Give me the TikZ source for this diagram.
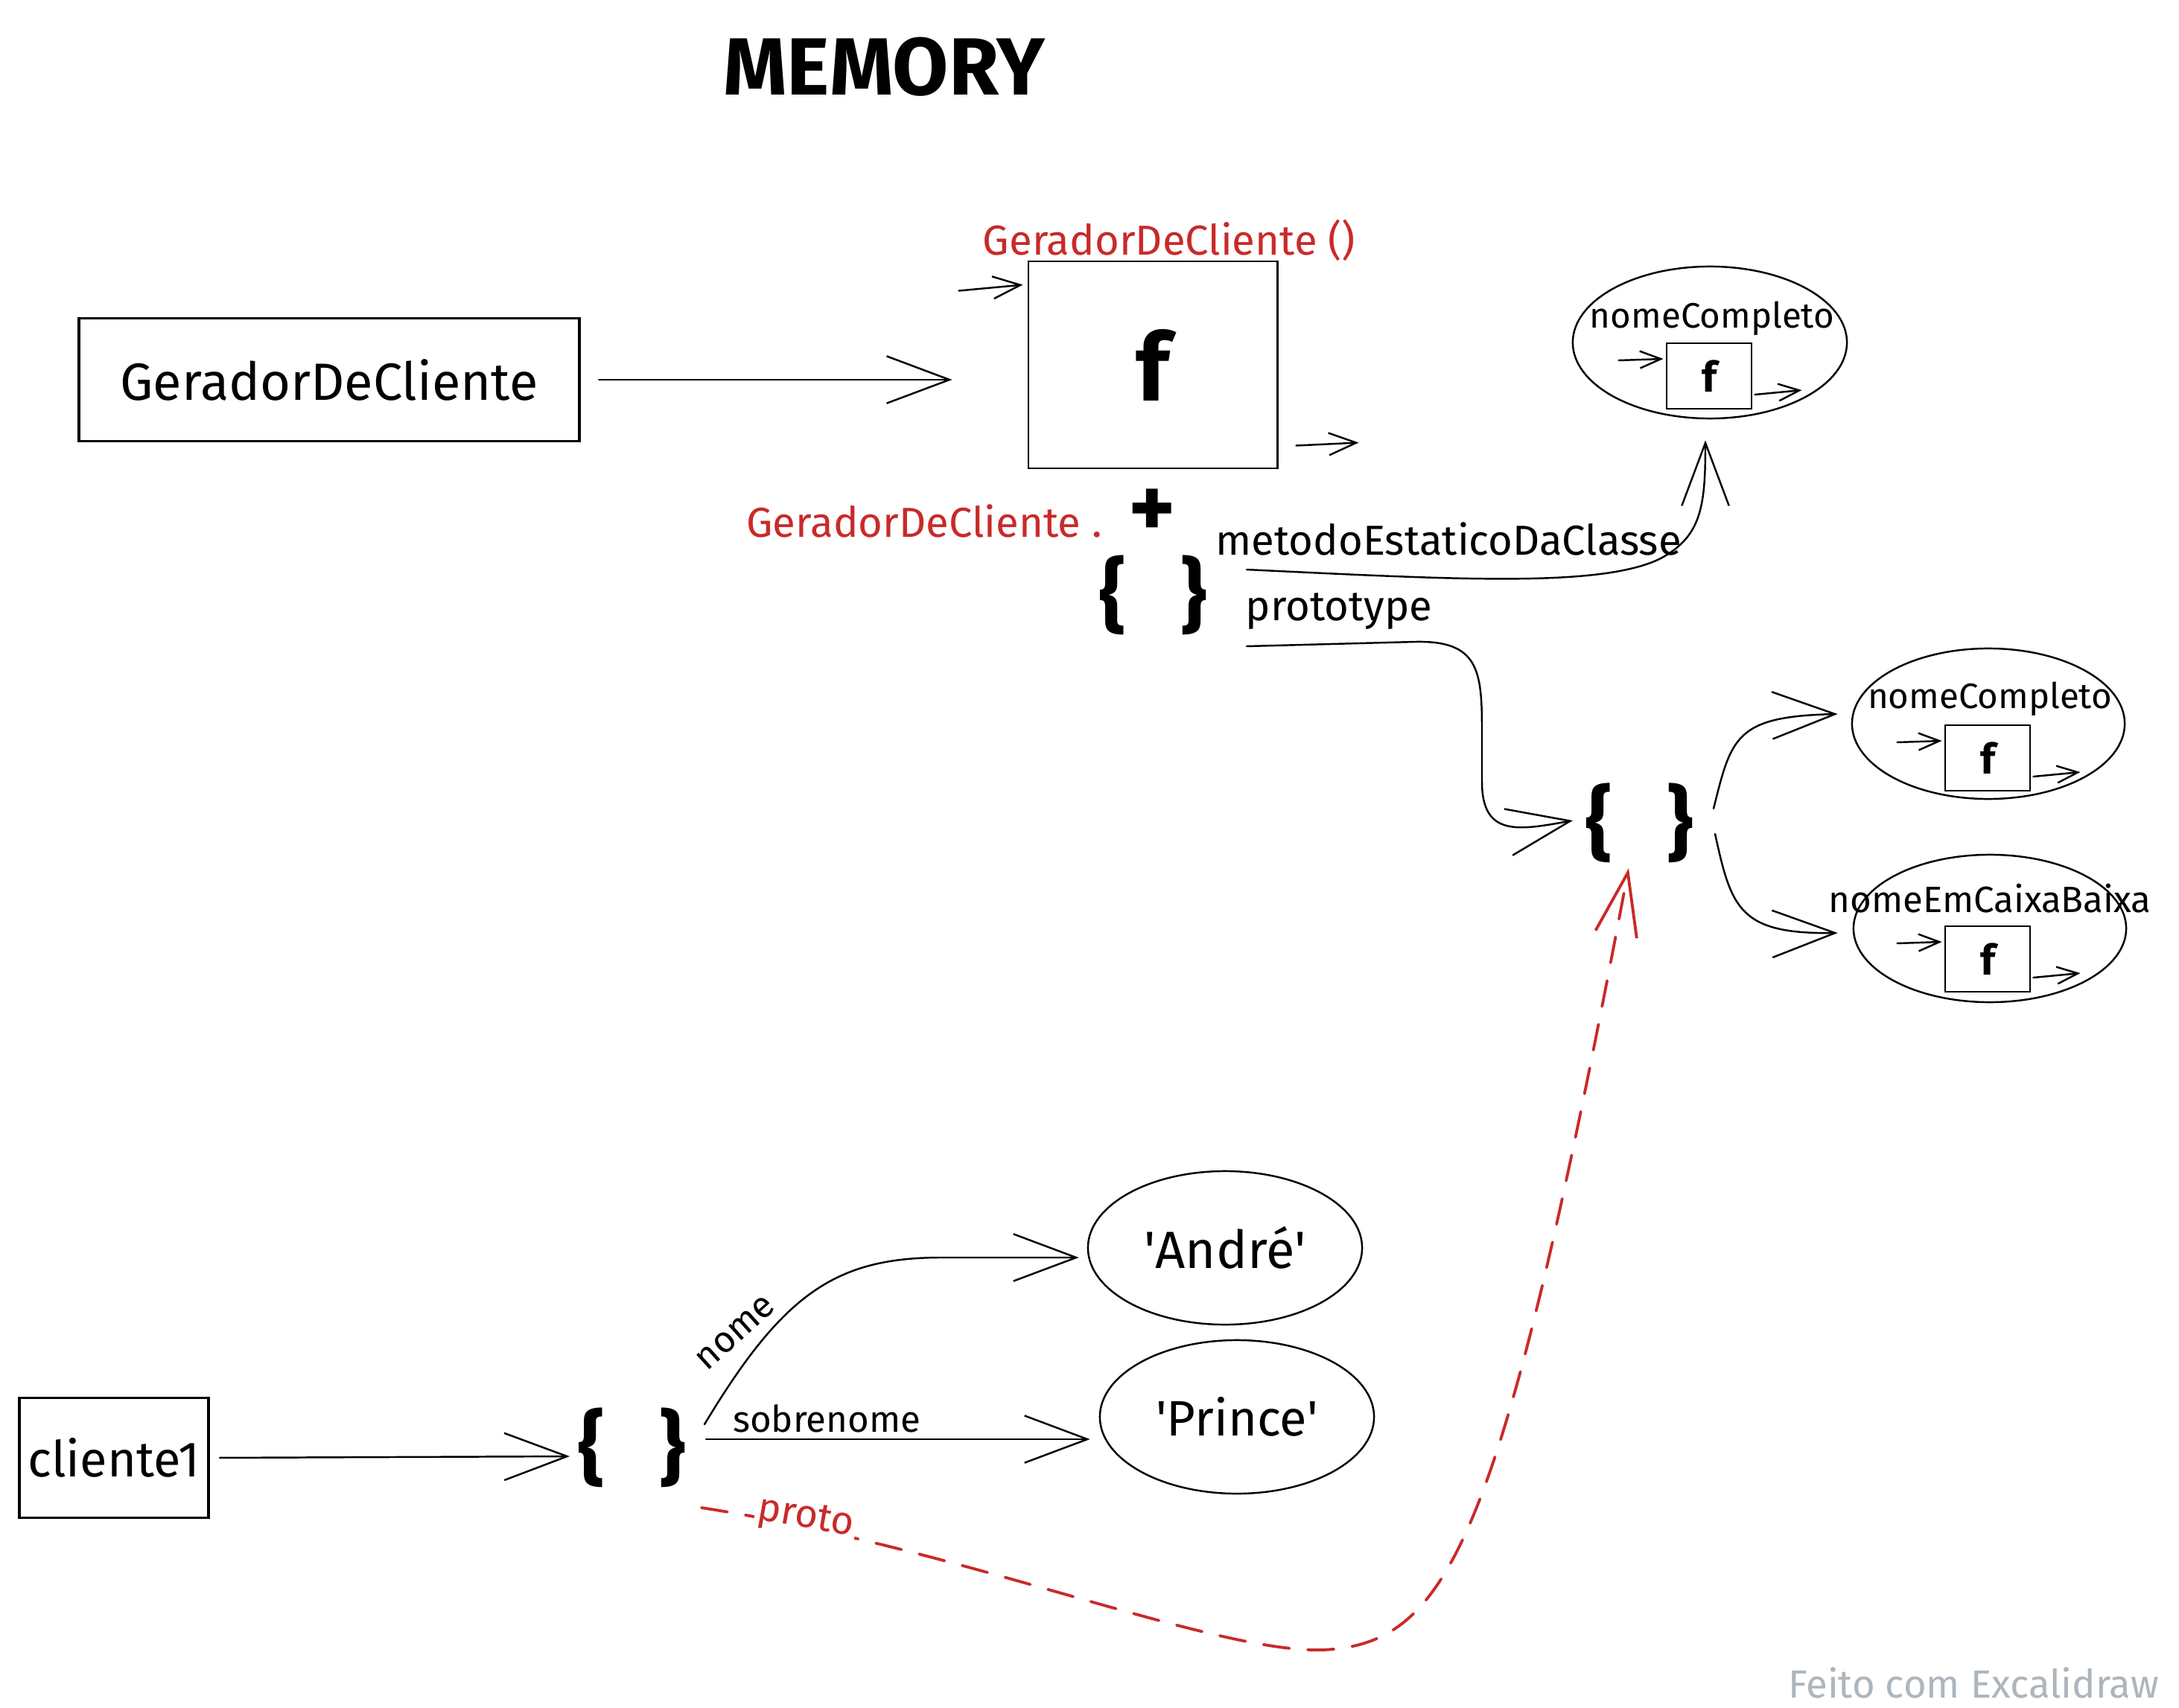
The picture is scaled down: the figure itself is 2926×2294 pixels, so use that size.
\documentclass[tikz,border=0pt]{standalone}
\usepackage{fontspec}
\setmainfont{Fira Sans}
\usetikzlibrary{arrows.meta,calc,shapes.geometric}
\definecolor{exred}{RGB}{201,42,42}
\definecolor{exgray}{RGB}{173,181,189}
\begin{document}
\begin{tikzpicture}[x=0.01cm,y=-0.01cm,
  conn/.style={line width=0.7pt,line cap=round},
  bigtip/.style={-{Straight Barb[length=24pt,width=18pt]}},
  medtip/.style={-{Straight Barb[length=10.5pt,width=8.5pt]}},
  smalltip/.style={-{Straight Barb[length=8pt,width=6.5pt]}},
  redconn/.style={draw=exred,line width=1.1pt,dash pattern=on 10pt off 7pt,line cap=round},
  redtip/.style={-{Straight Barb[length=24pt,width=16pt,line width=1.1pt]}},
  lbl/.style={inner sep=1pt,font=\fontsize{16}{19}\selectfont},
  elbl/.style={inner sep=1pt,font=\fontsize{14}{17}\selectfont},
  redlbl/.style={inner sep=1pt,text=exred,font=\fontsize{16}{19}\selectfont},
  bracesty/.style={inner sep=0pt,font=\fontsize{31}{34}\selectfont\bfseries},
  sketchbox/.style={draw,line width=1.1pt},
  fnbox/.style={draw,line width=0.8pt,inner sep=0pt},
  valell/.style={draw,ellipse,line width=0.7pt,inner sep=0pt}]
\useasboundingbox (0,0) rectangle (2926,2294);
\fill[white] (0,0) rectangle (2926,2294);

% title
\node[font=\fontsize{31}{36}\selectfont\bfseries] (title) at (1187,90) {MEMORY};

% constructor function
\node[sketchbox,minimum width=6.72cm,minimum height=1.65cm,font=\fontsize{20}{24}\selectfont] (gdc) at (442,510) {GeradorDeCliente};
\node[fnbox,minimum width=3.34cm,minimum height=2.78cm,font=\fontsize{36}{40}\selectfont\bfseries] (fbox) at (1548,490) {f};
\node[redlbl] (callf) at (1570,323) {GeradorDeCliente ()};
\node[redlbl] (gdcdot) at (1241,700) {GeradorDeCliente .};
\node[inner sep=0pt,font=\fontsize{34}{36}\selectfont\bfseries] (plus) at (1547,690) {+};
\node[bracesty] (obj1) at (1549,799) {\{\hspace{21pt}\}};
\node[lbl] (lmetodo) at (1945,724) {metodoEstaticoDaClasse};
\node[lbl] (lprototype) at (1798,821) {prototype};

\draw[conn,bigtip,shorten <=0.24cm] (gdc.east) -- ($(fbox.west |- gdc.east)+(-101,0)$);
\coordinate (fin) at ($(fbox.north west)+(-92,41)$);
\coordinate (fout) at ($(fbox.south east)+(108,-36)$);
\draw[conn,medtip] (fin) -- ($(fbox.north west)+(-6,33)$);
\draw[conn,medtip] ($(fbox.south east)+(24,-32)$) -- (fout);

% static method object
\node[valell,minimum width=3.68cm,minimum height=2.04cm] (e1) at (2296,460) {};
\node[elbl,font=\fontsize{13.5}{16}\selectfont] (t1) at (2299,428) {nomeCompleto};
\node[fnbox,minimum width=1.14cm,minimum height=0.88cm,font=\fontsize{16}{18}\selectfont\bfseries] (b1) at (2295,505) {f};

% prototype object
\node[bracesty] (obj2) at (2202,1105) {\{\hspace{21pt}\}};
\node[valell,minimum width=3.66cm,minimum height=2.02cm] (e2) at (2670,972) {};
\node[elbl,font=\fontsize{13.5}{16}\selectfont] (t2) at (2672,939) {nomeCompleto};
\node[fnbox,minimum width=1.14cm,minimum height=0.88cm,font=\fontsize{16}{18}\selectfont\bfseries] (b2) at (2669,1018) {f};
\node[valell,minimum width=3.66cm,minimum height=1.98cm] (e3) at (2672,1247) {};
\node[elbl] (t3) at (2672,1207) {nomeEmCaixaBaixa};
\node[fnbox,minimum width=1.14cm,minimum height=0.88cm,font=\fontsize{16}{18}\selectfont\bfseries] (b3) at (2669,1288) {f};

\foreach \b in {b1,b2,b3}{
  \coordinate (\b-in) at ($(\b.west)+(-63,-21)$);
  \coordinate (\b-out) at ($(\b.east)+(66,19)$);
  \draw[conn,smalltip] (\b-in) -- ($(\b.west)+(-3,-23)$);
  \draw[conn,smalltip] ($(\b.east)+(3,25)$) -- (\b-out);
}

\draw[conn,bigtip] ($(obj1.center)+(125,-34)$) .. controls (1950,778) and (2150,790) .. (2230,750)
  .. controls (2285,720) and (2290,680) .. ($(e1.south)+(-6,28)$);
\draw[conn,bigtip] ($(obj1.center)+(125,69)$) -- (1900,862) .. controls (1985,860) and (1990,900) .. (1990,980)
  -- (1990,1050) .. controls (1990,1125) and (2040,1115) .. ($(obj2.center)+(-90,-3)$);
\draw[conn,bigtip] ($(obj2.center)+(99,-19)$) .. controls (2325,990) and (2330,962) .. ($(e2.west)+(-18,-13)$);
\draw[conn,bigtip] ($(obj2.center)+(101,15)$) .. controls (2325,1220) and (2335,1255) .. ($(e3.west)+(-20,6)$);

% instance
\node[sketchbox,minimum width=2.46cm,minimum height=1.61cm,font=\fontsize{19}{22}\selectfont] (c1) at (153,1958) {cliente1};
\node[bracesty] (obj3) at (849,1944) {\{\hspace{21pt}\}};
\node[valell,minimum width=3.68cm,minimum height=2.06cm,font=\fontsize{20}{24}\selectfont] (andre) at (1645,1676) {\textquotesingle André\textquotesingle};
\node[valell,minimum width=3.68cm,minimum height=2.06cm,font=\fontsize{19}{23}\selectfont] (prince) at (1661,1903) {\textquotesingle Prince\textquotesingle};

\draw[conn,bigtip,shorten <=0.13cm] (c1.east) -- ($(obj3.center)+(-84,12)$);
\draw[conn,bigtip] ($(obj3.center)+(97,-31)$) .. controls (1050,1740) and (1120,1690) .. (1260,1689) -- ($(andre.west)+(-11,13)$);
\draw[conn,bigtip] ($(obj3.center)+(99,-11)$) -- ($(prince.west)+(-12,30)$);
\node[elbl,rotate=42] (lnome) at (988,1790) {nome};
\node[elbl] (lsobrenome) at (1110,1905) {sobrenome};

\draw[redconn,redtip,exred] ($(obj3.center)+(93,81)$) .. controls (1300,2080) and (1650,2230) .. (1790,2215)
  .. controls (1950,2200) and (2020,2050) .. ($(obj2.center)+(-15,61)$);
\node[inner sep=1pt,fill=white,text=exred,rotate=-10,font=\fontsize{15}{18}\selectfont] (lproto) at (1082,2040) {proto};

\node[text=exgray,font=\fontsize{15}{18}\selectfont] (credit) at (2650,2260) {Feito com Excalidraw};
\end{tikzpicture}
\end{document}
